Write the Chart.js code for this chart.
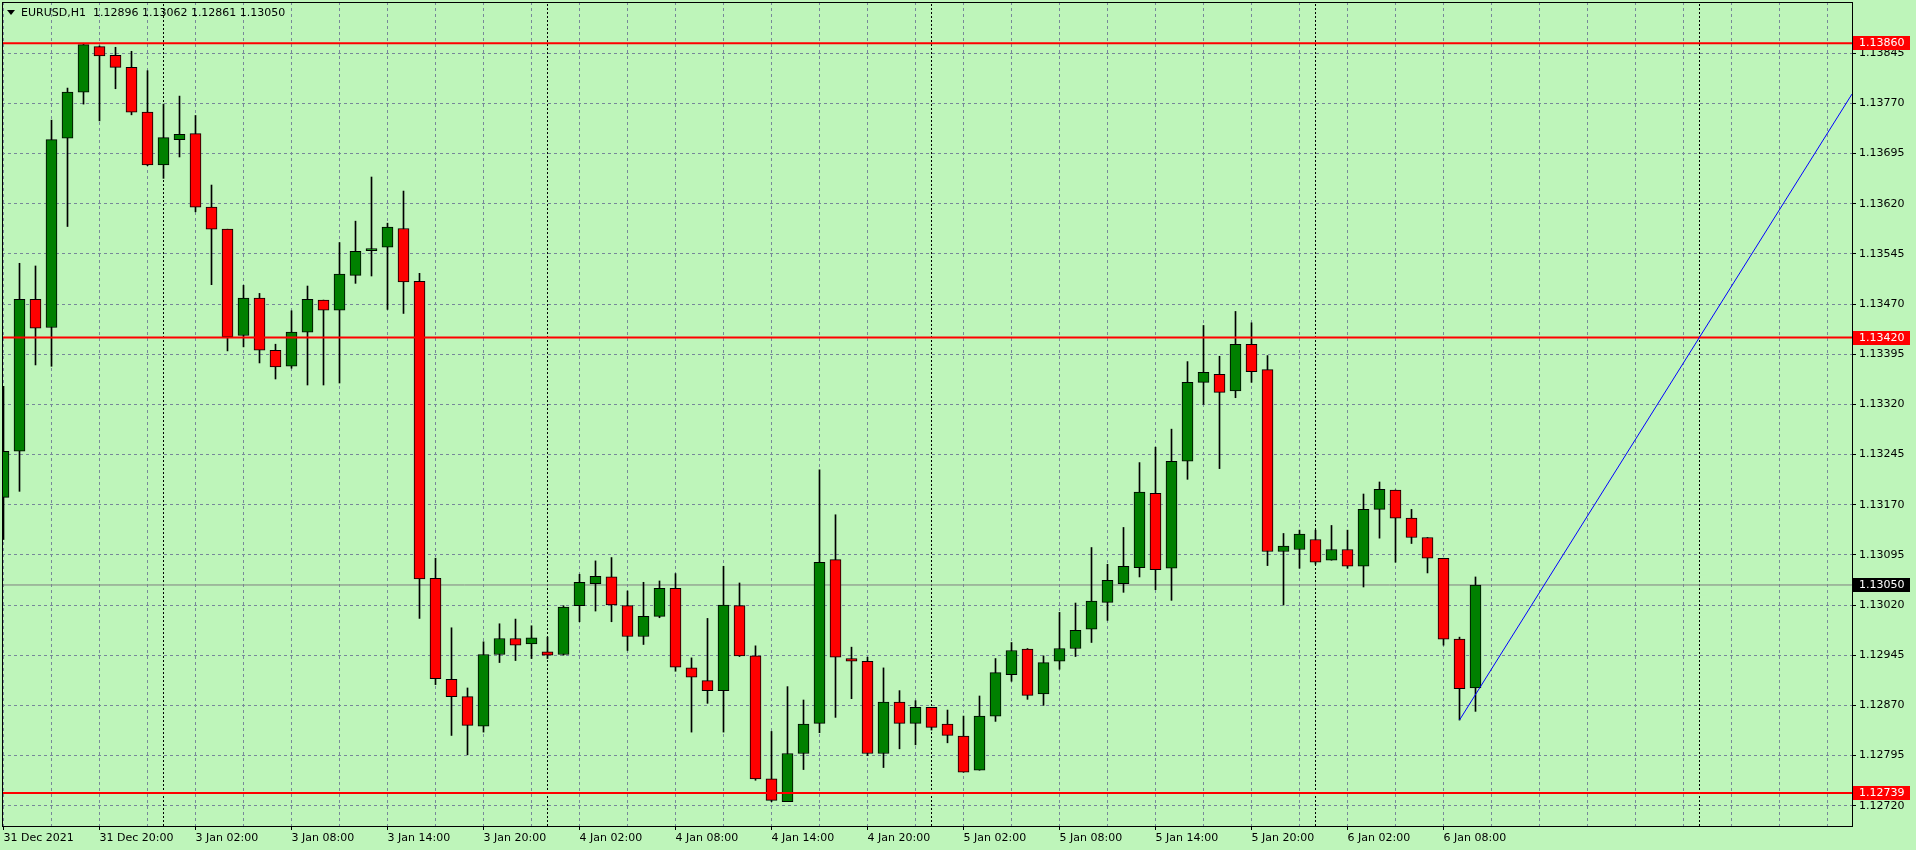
<!DOCTYPE html>
<html>
<head>
<meta charset="utf-8">
<script src="https://cdn.jsdelivr.net/npm/chart.js@4.4.0/dist/chart.umd.min.js"></script>
<style>
  html, body { margin: 0; padding: 0; background: #BEF5BA; overflow: hidden; }
  #wrap { position: relative; width: 1916px; height: 850px; }
  canvas { display: block; }
  #hdr { position: absolute; left: 21px; top: 6px; font: 11px "DejaVu Sans"; line-height: 13px; color: #000; white-space: pre; }
  #tri { position: absolute; left: 7px; top: 10px; width: 0; height: 0;
         border-left: 4px solid transparent; border-right: 4px solid transparent; border-top: 5px solid #000; }
</style>
</head>
<body>
<div id="wrap">
  <canvas id="c" width="1916" height="850"></canvas>
  <div id="tri"></div>
  <div id="hdr"></div>
</div>
<script>
// ---------------- data (EURUSD H1, one value per bar) ----------------
const symbol = 'EURUSD,H1';

const openP = [
  1.13181, 1.13250, 1.13477, 1.13435, 1.13718, 1.13787, 1.13855, 1.13842, 1.13824, 1.13757,
  1.13678, 1.13716, 1.13725, 1.13615, 1.13582, 1.13423, 1.13479, 1.13401, 1.13377, 1.13428,
  1.13476, 1.13461, 1.13513, 1.13550, 1.13555, 1.13583, 1.13504, 1.13060, 1.12909, 1.12883,
  1.12839, 1.12946, 1.12970, 1.12962, 1.12950, 1.12946, 1.13019, 1.13052, 1.13062, 1.13019,
  1.12973, 1.13003, 1.13045, 1.12926, 1.12907, 1.12892, 1.13019, 1.12944, 1.12760, 1.12726,
  1.12798, 1.12843, 1.13088, 1.12940, 1.12936, 1.12798, 1.12875, 1.12843, 1.12867, 1.12842,
  1.12824, 1.12773, 1.12854, 1.12916, 1.12954, 1.12887, 1.12936, 1.12955, 1.12984, 1.13024,
  1.13052, 1.13076, 1.13187, 1.13075, 1.13235, 1.13353, 1.13365, 1.13340, 1.13410, 1.13372,
  1.13100, 1.13103, 1.13118, 1.13087, 1.13103, 1.13078, 1.13163, 1.13192, 1.13150, 1.13121,
  1.13090, 1.12969, 1.12896
];
const highP = [
  1.13347, 1.13531, 1.13527, 1.13745, 1.13793, 1.13860, 1.13856, 1.13854, 1.13848, 1.13819,
  1.13769, 1.13781, 1.13752, 1.13648, 1.13582, 1.13498, 1.13486, 1.13410, 1.13460, 1.13497,
  1.13476, 1.13562, 1.13594, 1.13660, 1.13591, 1.13639, 1.13516, 1.13090, 1.12986, 1.12896,
  1.12965, 1.12992, 1.12999, 1.12989, 1.12972, 1.13019, 1.13066, 1.13086, 1.13091, 1.13041,
  1.13054, 1.13056, 1.13067, 1.12941, 1.13000, 1.13078, 1.13053, 1.12959, 1.12831, 1.12898,
  1.12878, 1.13222, 1.13155, 1.12957, 1.12942, 1.12926, 1.12892, 1.12877, 1.12867, 1.12863,
  1.12854, 1.12884, 1.12940, 1.12964, 1.12955, 1.12944, 1.13009, 1.13023, 1.13106, 1.13081,
  1.13136, 1.13233, 1.13256, 1.13283, 1.13384, 1.13438, 1.13392, 1.13459, 1.13442, 1.13393,
  1.13127, 1.13132, 1.13132, 1.13139, 1.13132, 1.13186, 1.13204, 1.13192, 1.13163, 1.13121,
  1.13090, 1.12972, 1.13062
];
const lowP = [
  1.13118, 1.13190, 1.13379, 1.13377, 1.13586, 1.13769, 1.13744, 1.13792, 1.13753, 1.13677,
  1.13658, 1.13690, 1.13608, 1.13499, 1.13400, 1.13406, 1.13382, 1.13358, 1.13374, 1.13349,
  1.13349, 1.13352, 1.13501, 1.13512, 1.13462, 1.13456, 1.13000, 1.12901, 1.12825, 1.12796,
  1.12830, 1.12934, 1.12937, 1.12940, 1.12940, 1.12945, 1.12995, 1.13011, 1.12995, 1.12952,
  1.12961, 1.13001, 1.12921, 1.12830, 1.12873, 1.12830, 1.12943, 1.12758, 1.12726, 1.12726,
  1.12774, 1.12829, 1.12852, 1.12880, 1.12795, 1.12777, 1.12805, 1.12811, 1.12833, 1.12814,
  1.12770, 1.12773, 1.12846, 1.12906, 1.12879, 1.12870, 1.12924, 1.12943, 1.12964, 1.12997,
  1.13039, 1.13062, 1.13043, 1.13027, 1.13208, 1.13320, 1.13224, 1.13330, 1.13353, 1.13079,
  1.13020, 1.13075, 1.13081, 1.13087, 1.13075, 1.13047, 1.13120, 1.13084, 1.13112, 1.13068,
  1.12960, 1.12848, 1.12861
];
const closeP = [
  1.13250, 1.13477, 1.13434, 1.13716, 1.13787, 1.13858, 1.13841, 1.13824, 1.13757, 1.13678,
  1.13719, 1.13724, 1.13615, 1.13582, 1.13421, 1.13479, 1.13401, 1.13376, 1.13428, 1.13477,
  1.13461, 1.13515, 1.13549, 1.13553, 1.13585, 1.13503, 1.13059, 1.12910, 1.12883, 1.12840,
  1.12946, 1.12970, 1.12960, 1.12971, 1.12945, 1.13017, 1.13054, 1.13063, 1.13020, 1.12973,
  1.13003, 1.13045, 1.12927, 1.12912, 1.12892, 1.13020, 1.12944, 1.12760, 1.12728, 1.12798,
  1.12842, 1.13084, 1.12942, 1.12936, 1.12798, 1.12875, 1.12843, 1.12867, 1.12837, 1.12825,
  1.12770, 1.12854, 1.12919, 1.12952, 1.12885, 1.12934, 1.12955, 1.12982, 1.13026, 1.13057,
  1.13078, 1.13189, 1.13073, 1.13235, 1.13353, 1.13368, 1.13338, 1.13410, 1.13369, 1.13100,
  1.13108, 1.13126, 1.13084, 1.13103, 1.13078, 1.13163, 1.13193, 1.13150, 1.13121, 1.13090,
  1.12969, 1.12895, 1.13050
];

// time-axis labels: one every 6 bars starting at bar 0
const timeLabels = [
  '31 Dec 2021', '31 Dec 20:00', '3 Jan 02:00', '3 Jan 08:00', '3 Jan 14:00', '3 Jan 20:00',
  '4 Jan 02:00', '4 Jan 08:00', '4 Jan 14:00', '4 Jan 20:00', '5 Jan 02:00', '5 Jan 08:00',
  '5 Jan 14:00', '5 Jan 20:00', '6 Jan 02:00', '6 Jan 08:00'
];
const labelStep = 6;
const gridStep = 3;
const lastGridBar = 114;

// price-axis tick labels
const priceTicks = [
  1.12720, 1.12795, 1.12870, 1.12945, 1.13020, 1.13095, 1.13170, 1.13245,
  1.13320, 1.13395, 1.13470, 1.13545, 1.13620, 1.13695, 1.13770, 1.13845
];

// horizontal levels, current bid, day separators (bar index), trend line
const levels = [1.13860, 1.13420, 1.12739];
const bidPrice = 1.13050;
const daySeparators = [10, 34, 58, 82, 106];
const trendX = [91, 115.53];
const trendY = [1.12848, 1.13784];

// axis ranges
const X_MIN = -0.09375, X_MAX = 115.53125;
const Y_MIN = 1.126896, Y_MAX = 1.139217;

// ---------------- build ----------------
document.getElementById('hdr').textContent =
  symbol + '  ' + [openP, highP, lowP, closeP].map(a => a[a.length - 1].toFixed(5)).join(' ');

const BULL = '#008000', BEAR = '#FF0000', GRID = '#778899';
const idx = openP.map((_, i) => i);
const bodies = idx.map(i => ({ x: i, y: [openP[i], closeP[i]] }));
const wicks = idx.map(i => ({ x: i, y: [lowP[i], highP[i]] }));
const bodyColors = idx.map(i => closeP[i] >= openP[i] ? BULL : BEAR);

const levelData = [];
levels.forEach(v => { levelData.push({ x: X_MIN, y: v }, { x: X_MAX, y: v }, { x: X_MAX, y: null }); });
const sepData = [];
daySeparators.forEach(b => { sepData.push({ x: b, y: Y_MIN }, { x: b, y: Y_MAX }, { x: b, y: null }); });

const gridTicks = [];
for (let b = 0; b <= lastGridBar; b += gridStep) gridTicks.push(b);
function labelFor(v) {
  if (v % labelStep !== 0) return '';
  const k = v / labelStep;
  return k < timeLabels.length ? timeLabels[k] : '';
}

Chart.defaults.font.family = 'DejaVu Sans';
Chart.defaults.font.size = 11;
Chart.defaults.color = '#000';

const overlay = {
  id: 'overlay',
  afterDraw(chart) {
    const { ctx, chartArea: a, scales: { y } } = chart;
    ctx.save();
    ctx.strokeStyle = '#000';
    ctx.lineWidth = 1;
    ctx.strokeRect(a.left + 0.5, a.top + 0.5, a.right - a.left, a.bottom - a.top);
    const tag = (v, bg) => {
      const py = y.getPixelForValue(v);
      ctx.fillStyle = bg;
      ctx.fillRect(a.right + 1, Math.round(py) - 7, 57, 14);
      ctx.fillStyle = '#FFFFFF';
      ctx.font = '11px "DejaVu Sans"';
      ctx.textBaseline = 'middle';
      ctx.textAlign = 'left';
      ctx.fillText(v.toFixed(5), a.right + 7, Math.round(py) + 0.5);
    };
    levels.forEach(v => tag(v, '#FF0000'));
    tag(bidPrice, '#000000');
    ctx.restore();
  }
};

new Chart(document.getElementById('c'), {
  type: 'line',
  data: {
    datasets: [
      { type: 'line', data: trendX.map((x, i) => ({ x, y: trendY[i] })), borderColor: '#0000FF', borderWidth: 1,
        pointRadius: 0, fill: false, order: 0, clip: 0 },
      { type: 'line', data: levelData, borderColor: '#FF0000', borderWidth: 2, pointRadius: 0, fill: false,
        spanGaps: false, order: 1, clip: 0 },
      { type: 'bar', data: bodies, grouped: false, barThickness: 11, backgroundColor: bodyColors,
        borderColor: '#000000', borderWidth: 1, borderSkipped: false, order: 2, clip: 0 },
      { type: 'bar', data: wicks, grouped: false, barThickness: 1, backgroundColor: '#000000',
        borderWidth: 0, order: 3, clip: 0 },
      { type: 'line', data: [{ x: X_MIN, y: bidPrice }, { x: X_MAX, y: bidPrice }], borderColor: '#808080',
        borderWidth: 1, pointRadius: 0, fill: false, order: 4, clip: 0 },
      { type: 'line', data: sepData, borderColor: '#000000', borderWidth: 1, borderDash: [2, 2],
        pointRadius: 0, fill: false, spanGaps: false, order: 5, clip: 0 }
    ]
  },
  options: {
    responsive: false,
    animation: false,
    devicePixelRatio: 1,
    events: [],
    layout: { padding: { left: 2, top: 2, right: 0, bottom: 0 } },
    plugins: { legend: { display: false }, tooltip: { enabled: false }, title: { display: false } },
    scales: {
      x: {
        type: 'linear', position: 'bottom', min: X_MIN, max: X_MAX, offset: false,
        afterBuildTicks: s => { s.ticks = gridTicks.map(v => ({ value: v })); },
        afterFit: s => { s.height = 24; s.paddingLeft = 0; s.paddingRight = 0; },
        ticks: { autoSkip: false, maxRotation: 0, minRotation: 0, align: 'start', padding: 2, color: '#000',
                 callback: v => labelFor(v) },
        grid: { offset: false, color: GRID, lineWidth: 1, drawTicks: true, tickLength: 4,
                tickColor: c => (c.tick && labelFor(c.tick.value)) ? '#000000' : 'rgba(0,0,0,0)' },
        border: { display: false, dash: [3, 3] }
      },
      y: {
        type: 'linear', position: 'right', min: Y_MIN, max: Y_MAX, beginAtZero: false,
        afterBuildTicks: s => { s.ticks = priceTicks.map(v => ({ value: v })); },
        afterFit: s => { s.width = 64; s.paddingTop = 0; s.paddingBottom = 0; },
        ticks: { autoSkip: false, padding: 3, color: '#000', callback: v => Number(v).toFixed(5) },
        grid: { color: GRID, lineWidth: 1, drawTicks: true, tickLength: 4, tickColor: '#000000' },
        border: { display: false, dash: [3, 3] }
      }
    }
  },
  plugins: [overlay]
});
</script>
</body>
</html>
